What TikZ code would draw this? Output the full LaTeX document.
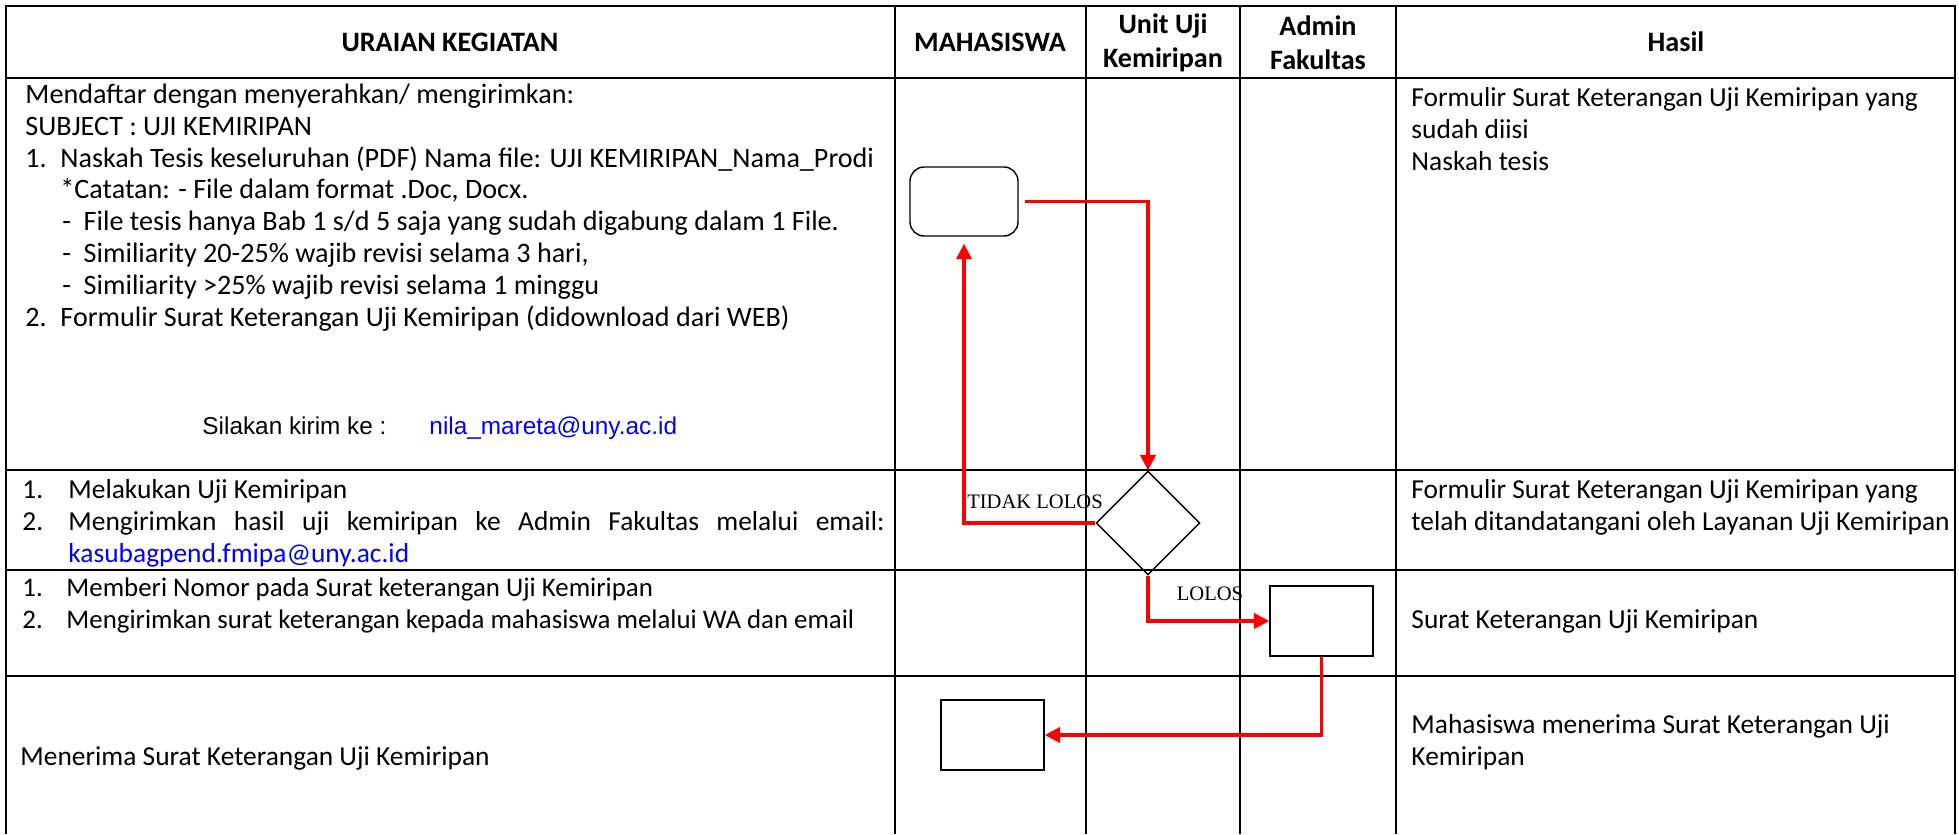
\documentclass[tikz,border=0pt]{standalone}
\usepackage{fontspec}
\setmainfont{Carlito}
\newfontfamily\arialf{Liberation Sans}
\newfontfamily\serf{Liberation Serif}
\usetikzlibrary{shapes.geometric,arrows.meta}
\begin{document}
\begin{tikzpicture}[x=0.423pt,y=-0.423pt,
  grid/.style={line width=1.1pt},
  txt/.style={anchor=base west,inner sep=0pt,font=\fontsize{11.6pt}{13.5pt}\selectfont},
  txtb/.style={txt,font=\fontsize{11.9pt}{13.5pt}\selectfont},
  txts/.style={txt,font=\fontsize{11.35pt}{13.5pt}\selectfont},
  hdr/.style={inner sep=0pt,font=\fontsize{11.9pt}{14.4pt}\selectfont\bfseries,align=center},
  flow/.style={red,line width=1.3pt,-{Triangle[length=6.5pt,width=6.5pt]}},
  box/.style={draw,line width=0.6pt,minimum width=43.6pt,minimum height=29.6pt,inner sep=0pt},
  lbl/.style={font=\serf\fontsize{8.7pt}{10pt}\selectfont,inner sep=0pt},
  arl/.style={anchor=base west,inner sep=0pt,font=\arialf\fontsize{10.3pt}{12pt}\selectfont}]
\useasboundingbox (0,0) rectangle (1959,834);
% table grid
\draw[grid] (6,834) -- (6,6) -- (1955,6) -- (1955,834);
\foreach \x in {895,1086,1240,1396} \draw[grid] (\x,6) -- (\x,834);
\foreach \y in {78,470,570,676} \draw[grid] (6,\y) -- (1955,\y);
% headers
\node[hdr] (h1) at (450,42) {URAIAN KEGIATAN};
\node[hdr] (h2) at (990,42) {MAHASISWA};
\node[hdr] (h3) at (1163,43) {Unit Uji\\Kemiripan};
\node[hdr] (h4) at (1318,43) {Admin\\Fakultas};
\node[hdr] (h5) at (1676,42) {Hasil};
% row 1
\node[txtb] (r1a) at (25,103) {Mendaftar dengan menyerahkan/ mengirimkan:};
\node[txtb] (r1b) at (25,135) {SUBJECT : UJI KEMIRIPAN};
\node[txtb] (r1c) at (25,167) {1.};
\node[txtb] (r1d) at (60,167) {Naskah Tesis keseluruhan (PDF) Nama file: UJI KEMIRIPAN\_Nama\_Prodi};
\node[txtb] (r1e) at (60,198) {*Catatan: - File dalam format .Doc, Docx.};
\node[txtb] (r1f) at (62,230) {-\hspace{0.45em}File tesis hanya Bab 1 s/d 5 saja yang sudah digabung dalam 1 File.};
\node[txtb] (r1g) at (62,262) {-\hspace{0.45em}Similiarity 20-25\% wajib revisi selama 3 hari,};
\node[txtb] (r1h) at (62,294) {-\hspace{0.45em}Similiarity >25\% wajib revisi selama 1 minggu};
\node[txtb] (r1i) at (25,326) {2.};
\node[txtb] (r1j) at (60,326) {Formulir Surat Keterangan Uji Kemiripan (didownload dari WEB)};
\node[arl] (s1) at (202,434) {Silakan kirim ke :};
\node[arl,text=blue] (s2) at (429,434) {nila\_mareta@uny.ac.id};
% row 2
\node[txt] (r2a) at (22,498) {1.};
\node[txt] (r2b) at (68,498) {Melakukan Uji Kemiripan};
\node[txt] (r2c) at (22,530) {2.};
\node[txt] (r2d) at (68,530) {\makebox[345.2pt][s]{Mengirimkan hasil uji kemiripan ke Admin Fakultas melalui email:}};
\node[txt,text=blue] (r2e) at (68,562) {kasubagpend.fmipa@uny.ac.id};
% row 3
\node[txts] (r3a) at (22,596) {1.};
\node[txts] (r3b) at (66,596) {Memberi Nomor pada Surat keterangan Uji Kemiripan};
\node[txts] (r3c) at (22,628) {2.};
\node[txts] (r3d) at (66,628) {Mengirimkan surat keterangan kepada mahasiswa melalui WA dan email};
% row 4
\node[txt] (r4a) at (20,765) {Menerima Surat Keterangan Uji Kemiripan};
% hasil
\node[txt] (k1a) at (1411,106) {Formulir Surat Keterangan Uji Kemiripan yang};
\node[txt] (k1b) at (1411,138) {sudah diisi};
\node[txt] (k1c) at (1411,170) {Naskah tesis};
\node[txt] (k2a) at (1411,498) {Formulir Surat Keterangan Uji Kemiripan yang};
\node[txt] (k2b) at (1411,530) {telah ditandatangani oleh Layanan Uji Kemiripan};
\node[txt] (k3) at (1411,628) {Surat Keterangan Uji Kemiripan};
\node[txt] (k4a) at (1411,733) {Mahasiswa menerima Surat Keterangan Uji};
\node[txt] (k4b) at (1411,765) {Kemiripan};
% flow shapes
\node[box,rounded corners=6pt,minimum width=45.7pt,minimum height=29.2pt] (rr) at (964,201.5) {};
\node[draw,diamond,minimum width=44pt,minimum height=44pt,inner sep=0pt,line width=0.6pt] (dia) at (1148,523) {};
\node[box] (adm) at (1321.5,621) {};
\node[box] (mhs) at (992.5,735) {};
% connectors
\draw[flow,shorten <=2.5pt] (rr.east) -| (dia.north);
\draw[flow,shorten >=3pt] (dia.west) -| (rr.south);
\draw[flow] (dia.south) |- (adm.west);
\draw[flow] (adm.south) |- (mhs.east);
% labels
\node[lbl] (l1) at (1035,502) {TIDAK LOLOS};
\node[lbl] (l2) at (1210,594) {LOLOS};
\end{tikzpicture}
\end{document}
